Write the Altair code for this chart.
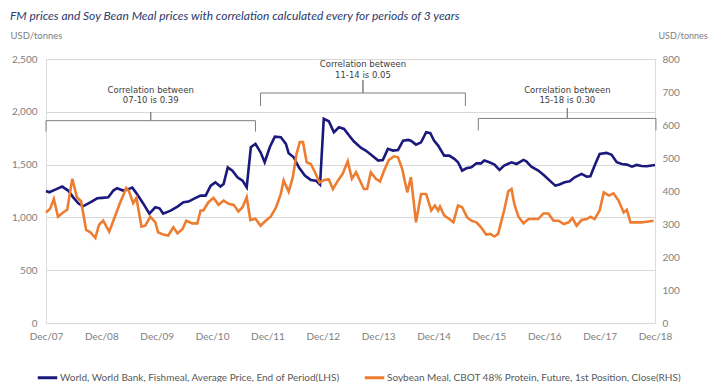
import altair as alt
import pandas as pd

TITLE = "FM prices and Soy Bean Meal prices with correlation calculated every for periods of 3 years"
UNIT = "USD/tonnes"
FM_NAME = "World, World Bank, Fishmeal, Average Price, End of Period(LHS)"
SBM_NAME = "Soybean Meal, CBOT 48% Protein, Future, 1st Position, Close(RHS)"

X_TICKS = [0, 12, 24, 36, 48, 60, 72, 84, 96, 108, 120, 132]
X_LABELS = ["Dec/07", "Dec/08", "Dec/09", "Dec/10", "Dec/11", "Dec/12",
            "Dec/13", "Dec/14", "Dec/15", "Dec/16", "Dec/17", "Dec/18"]
LHS_TICKS = [0, 500, 1000, 1500, 2000, 2500]
RHS_TICKS = [0, 100, 200, 300, 400, 500, 600, 700, 800]

# months since Dec 2007
FM_MONTH = [0, 0.7, 2, 3.5, 4.8, 5.9, 7, 8, 9.6, 11.1,
            12.2, 13.5, 14.6, 15.4, 16.7, 17.6, 18.7, 19.8, 21.1, 22.4,
            23.7, 24.6, 25.4, 27, 28.5, 29.8, 30.9, 32, 33.5, 34.6,
            35.7, 36.7, 37.8, 38.5, 39.4, 40.4, 41.5, 42.6, 43.5, 44.4,
            45.4, 46.5, 47.4, 48.5, 49.6, 50.9, 52, 52.6, 53.7, 54.8,
            56.1, 57.4, 58.5, 59.4, 60.2, 61.3, 62.4, 63.5, 64.6, 65.7,
            66.7, 68.3, 69.3, 70.4, 72, 73, 74.1, 75.2, 76.3, 77.4,
            78.5, 79.1, 80.2, 81.3, 82.4, 83.3, 84.1, 85, 86.3, 87.4,
            88.5, 89.3, 90.2, 91.1, 92.2, 93.3, 94.3, 95, 96.1, 97.2,
            98.3, 99.3, 100.9, 102, 103.5, 104.1, 105.2, 106.7, 108, 109.6,
            110.4, 111.3, 112.4, 113.5, 114.6, 116.1, 117.2, 118, 118.9, 120,
            121.5, 122.6, 123.7, 124.8, 125.9, 127, 128, 129.1, 130.2, 132]
FM_PRICE = [1250, 1238, 1263, 1292, 1254, 1190, 1133, 1105, 1143, 1181,
            1185, 1190, 1254, 1276, 1254, 1263, 1282, 1216, 1130, 1036,
            1096, 1086, 1036, 1064, 1102, 1143, 1150, 1175, 1206, 1206,
            1301, 1332, 1292, 1317, 1474, 1443, 1380, 1348, 1285, 1664,
            1696, 1617, 1522, 1664, 1765, 1759, 1696, 1607, 1569, 1474,
            1396, 1355, 1348, 1311, 1933, 1910, 1806, 1853, 1838, 1775,
            1721, 1658, 1633, 1595, 1538, 1544, 1649, 1633, 1639, 1727,
            1734, 1727, 1689, 1711, 1806, 1797, 1727, 1680, 1585, 1585,
            1554, 1522, 1443, 1465, 1474, 1512, 1512, 1538, 1522, 1500,
            1449, 1490, 1522, 1506, 1544, 1531, 1481, 1443, 1396, 1332,
            1301, 1311, 1332, 1342, 1380, 1412, 1386, 1389, 1490, 1601,
            1611, 1592, 1522, 1506, 1500, 1481, 1497, 1487, 1484, 1497]

SBM_MONTH = [0, 0.9, 1.7, 2.6, 3.7, 4.6, 5.7, 6.7, 7.6, 8.7,
             9.6, 10.7, 11.5, 12.4, 13.7, 14.6, 16.1, 17.4, 18, 18.9,
             19.6, 20.7, 21.5, 22.6, 23.7, 24.3, 25.4, 26.5, 27.6, 28.5,
             29.6, 30.4, 31.7, 32.8, 33.5, 34.1, 35.2, 36.3, 37.4, 38.5,
             39.6, 40.7, 41.7, 42.6, 43.5, 44.3, 45.4, 46.5, 47.6, 48.7,
             49.8, 50.9, 51.5, 52.6, 53.5, 54.3, 55, 55.7, 56.5, 57.4,
             58.3, 59.3, 60.4, 61.3, 62.2, 63.3, 64.3, 65.4, 66.3, 67.2,
             68.9, 69.6, 70.4, 71.5, 72.4, 73.3, 74.3, 75.4, 76.3, 77.2,
             78.3, 79.1, 80.2, 81.3, 82.4, 83.5, 84.3, 85, 85.4, 86.3,
             87.4, 88.3, 89.3, 90.2, 91.3, 92.2, 93.3, 94.3, 95.4, 96.3,
             97.2, 98, 99.3, 100.2, 100.9, 101.5, 102.4, 103.5, 104.6, 105.7,
             106.7, 107.8, 108.9, 110, 111.1, 112.2, 113.3, 114.1, 115, 116.1,
             117.2, 118, 118.9, 120, 120.9, 122, 123, 124.1, 125.2, 125.9,
             126.7, 128, 129.1, 130.2, 131.7]
SBM_PRICE = [335, 346, 376, 322, 335, 343, 437, 381, 369, 282,
             275, 258, 298, 310, 277, 310, 366, 409, 399, 363,
             379, 292, 295, 322, 305, 275, 268, 265, 290, 272,
             285, 310, 302, 302, 341, 341, 366, 379, 358, 371,
             361, 358, 338, 351, 381, 312, 316, 295, 310, 322,
             349, 391, 432, 398, 442, 512, 548, 548, 487, 482,
             457, 426, 434, 435, 406, 432, 452, 490, 437, 457,
             406, 406, 457, 437, 429, 462, 494, 505, 502, 467,
             396, 442, 305, 391, 391, 341, 356, 341, 353, 326,
             315, 305, 356, 351, 320, 310, 305, 290, 268, 270,
             262, 270, 341, 399, 406, 361, 322, 302, 315, 315,
             315, 332, 332, 310, 310, 300, 305, 318, 295, 312,
             315, 322, 315, 341, 396, 386, 393, 371, 335, 343,
             305, 305, 305, 307, 310]

# correlation annotations (periods in months since Dec 2007, heights in LHS units)
CORR_LINE1 = ["Correlation between", "Correlation between", "Correlation between"]
CORR_LINE2 = ["07-10 is 0.39", "11-14 is 0.05", "15-18 is 0.30"]
BR_START = [0, 46.5, 93.7]
BR_END = [45.4, 90.9, 132.2]
BR_MID = [22.7, 68.7, 113]
BR_LEVEL = [1916, 2178, 1937]
BR_FOOT = [1812, 2055, 1823]
BR_TIP = [1998, 2301, 2036]
TXT1_Y = [2207, 2453, 2207]
TXT2_Y = [2112, 2349, 2112]

BLUE = "#1B1A7C"
ORANGE = "#ED7D31"
GRAY = "#808080"

fm = pd.DataFrame({"m": FM_MONTH, "v": FM_PRICE, "series": FM_NAME})
sbm = pd.DataFrame({"m": SBM_MONTH, "v": SBM_PRICE, "series": SBM_NAME})

rows = []
for b in range(3):
    pts = [(BR_START[b], BR_FOOT[b]), (BR_START[b], BR_LEVEL[b]), (BR_MID[b], BR_LEVEL[b]),
           (BR_MID[b], BR_TIP[b]), (BR_MID[b], BR_LEVEL[b]), (BR_END[b], BR_LEVEL[b]),
           (BR_END[b], BR_FOOT[b])]
    for i, (mx, vy) in enumerate(pts):
        rows.append({"b": b, "i": i, "m": mx, "v": vy})
brackets = pd.DataFrame(rows)
texts = pd.DataFrame({
    "m": BR_MID + BR_MID,
    "v": TXT1_Y + TXT2_Y,
    "t": CORR_LINE1 + CORR_LINE2,
})

label_expr = "[" + ",".join("'" + s + "'" for s in X_LABELS) + "][round(datum.value/12)]"

x_enc = alt.X("m:Q", scale=alt.Scale(domain=[0, 132], nice=False, zero=False),
              axis=alt.Axis(values=X_TICKS, labelExpr=label_expr, title=None, grid=False,
                            domain=False, ticks=False, labelPadding=8, labelFlush=False,
                            labelOverlap=False, labelFont="Lato", labelFontSize=10,
                            labelColor=GRAY))

color_scale = alt.Scale(domain=[FM_NAME, SBM_NAME], range=[BLUE, ORANGE])

y_left = alt.Y("v:Q", scale=alt.Scale(domain=[0, 2500], nice=False),
               axis=alt.Axis(values=LHS_TICKS, format=",.0f", title=UNIT, titleAngle=0,
                             titleAlign="left", titleBaseline="middle", titleX=-36, titleY=-24,
                             titleFont="Lato", titleFontSize=9.5, titleFontWeight="normal",
                             titleColor=GRAY, grid=True, gridColor="#D9D9D9", domain=False,
                             ticks=False, labelPadding=9, labelFlush=False,
                             labelFont="Lato", labelFontSize=10, labelColor=GRAY))

blue = alt.Chart(fm).mark_line(strokeWidth=2.6).encode(
    x=x_enc, y=y_left,
    color=alt.Color("series:N", scale=color_scale,
                    legend=alt.Legend(orient="none", legendX=-10, legendY=307, padding=0,
                                      direction="horizontal", title=None,
                                      symbolType="stroke", symbolStrokeWidth=3,
                                      symbolSize=380, labelFont="Lato", labelFontSize=10,
                                      labelColor="#595959", columnPadding=18,
                                      labelOffset=1, labelLimit=0)))

br = alt.Chart(brackets).mark_line(color="#7F7F7F", strokeWidth=1).encode(
    x="m:Q", y="v:Q", detail="b:N", order="i:Q")

txt = alt.Chart(texts).mark_text(font="DejaVu Sans", fontSize=8.5, color="#404040",
                                 baseline="middle", align="center").encode(
    x="m:Q", y="v:Q", text="t:N")

title = alt.Chart(pd.DataFrame({"t": [TITLE]})).mark_text(
    align="left", baseline="middle", font="Lato", fontStyle="italic", fontSize=12,
    color="#2B3A6E").encode(x=alt.value(-36), y=alt.value(-43), text="t:N")

left_layer = alt.layer(blue, br, txt, title)

orange = alt.Chart(sbm).mark_line(strokeWidth=2.6).encode(
    x=x_enc,
    y=alt.Y("v:Q", scale=alt.Scale(domain=[0, 800], nice=False),
            axis=alt.Axis(orient="right", values=RHS_TICKS, title=UNIT, titleAngle=0,
                          titleAlign="left", titleBaseline="middle", titleX=3, titleY=-24,
                          titleFont="Lato", titleFontSize=9, titleFontWeight="normal",
                          titleColor=GRAY, grid=False, domain=False, ticks=False,
                          labelPadding=7, labelFlush=False, labelFont="Lato",
                          labelFontSize=10, labelColor=GRAY)),
    color=alt.Color("series:N", scale=color_scale))

chart = alt.layer(left_layer, orange).resolve_scale(y="independent").properties(
    width=609, height=264,
    padding={"left": 38, "top": 51, "right": 53, "bottom": 59},
    autosize=alt.AutoSizeParams(type="none"),
).configure_view(stroke=None).configure(background="white")

chart.save("out.html", embed_options={"renderer": "svg", "actions": False})
